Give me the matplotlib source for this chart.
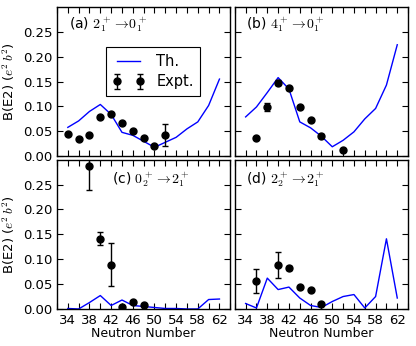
import matplotlib
matplotlib.use("Agg")
import matplotlib.pyplot as plt
import numpy as np

plt.rcParams['mathtext.fontset'] = 'cm'
plt.rcParams['font.family'] = ['DejaVu Sans']

N_th = [34, 36, 38, 40, 42, 44, 46, 48, 50, 52, 54, 56, 58, 60, 62]

th_a = [0.058, 0.071, 0.090, 0.104, 0.084, 0.048, 0.042, 0.030, 0.018, 0.028, 0.038, 0.055, 0.069, 0.102, 0.155]
th_b = [0.079, 0.099, 0.128, 0.158, 0.135, 0.069, 0.057, 0.040, 0.019, 0.032, 0.049, 0.075, 0.096, 0.143, 0.224]
th_c = [0.001, 0.000, 0.013, 0.027, 0.007, 0.018, 0.007, 0.005, 0.003, 0.001, 0.001, 0.000, 0.000, 0.019, 0.020]
th_d = [0.011, 0.002, 0.062, 0.039, 0.044, 0.022, 0.007, 0.003, 0.015, 0.025, 0.029, 0.002, 0.025, 0.141, 0.022]

ex_a_N = [34, 36, 38, 40, 42, 44, 46, 48, 50, 52]
ex_a = [0.044, 0.034, 0.042, 0.078, 0.084, 0.067, 0.051, 0.036, 0.020, 0.042]
ex_a_err = [0.002, 0.002, 0.002, 0.002, 0.002, 0.002, 0.002, 0.002, 0.002, 0.022]

ex_b_N = [36, 38, 40, 42, 44, 46, 48, 52]
ex_b = [0.037, 0.099, 0.148, 0.137, 0.099, 0.073, 0.040, 0.012]
ex_b_err = [0.002, 0.008, 0.005, 0.003, 0.002, 0.002, 0.004, 0.001]

ex_c_N = [38, 40, 42, 44, 46, 48]
ex_c = [0.288, 0.141, 0.089, 0.003, 0.014, 0.0075]
ex_c_err = [0.049, 0.013, 0.043, 0.001, 0.002, 0.001]

ex_d_N = [36, 40, 42, 44, 46, 48]
ex_d = [0.057, 0.088, 0.082, 0.044, 0.038, 0.011]
ex_d_err = [0.024, 0.026, 0.004, 0.002, 0.002, 0.001]

labels = [r'(a) $2_1^+ \rightarrow\!0_1^+$', r'(b) $4_1^+ \rightarrow\!0_1^+$',
          r'(c) $0_2^+ \rightarrow\!2_1^+$', r'(d) $2_2^+ \rightarrow\!2_1^+$']
label_pos = [(0.07, 0.88), (0.062, 0.88), (0.318, 0.867), (0.062, 0.867)]

xticks = [34, 38, 42, 46, 50, 54, 58, 62]
yticks = [0.00, 0.05, 0.10, 0.15, 0.20, 0.25]

fig, axes = plt.subplots(2, 2, figsize=(4.16, 3.46), dpi=100, sharex=True, sharey=True)
fig.subplots_adjust(left=0.137, right=0.981, top=0.980, bottom=0.107, wspace=0.026, hspace=0.023)

ths = [th_a, th_b, th_c, th_d]
exs = [(ex_a_N, ex_a, ex_a_err), (ex_b_N, ex_b, ex_b_err), (ex_c_N, ex_c, ex_c_err), (ex_d_N, ex_d, ex_d_err)]

for i, ax in enumerate(axes.flat):
    ax.plot(N_th, ths[i], color='#0000ff', lw=1.0, label='Th.')
    n, v, e = exs[i]
    ax.errorbar(n, v, yerr=e, fmt='o', color='black', ms=5, capsize=2.5, elinewidth=1, capthick=1, label='Expt.')
    ax.set_xlim(32, 64)
    ax.set_ylim(0, 0.3)
    ax.set_xticks(xticks)
    ax.set_xticks(np.arange(32, 65, 2), minor=True)
    ax.set_yticks(yticks)
    ax.tick_params(which='both', direction='in', top=True, right=True, labelsize=9.5, length=4, width=0.8)
    ax.text(label_pos[i][0], label_pos[i][1], labels[i], transform=ax.transAxes, fontsize=10, va='center', ha='left')
    for s in ax.spines.values():
        s.set_linewidth(1.0)

for ax in axes[:, 0]:
    ax.set_ylabel(r'B(E2) ($e^2\,b^2$)', fontsize=9.5, labelpad=4)
for ax in axes[1, :]:
    ax.set_xlabel('Neutron Number', fontsize=9, labelpad=0)

leg = axes[0, 0].legend(loc='upper center', bbox_to_anchor=(0.555, 0.78), numpoints=2, fontsize=10.5,
                        fancybox=False, framealpha=1, edgecolor='black', handlelength=2.2,
                        borderpad=0.45, labelspacing=0.4)
leg.get_frame().set_linewidth(0.8)

fig.savefig('out.png', dpi=100)
